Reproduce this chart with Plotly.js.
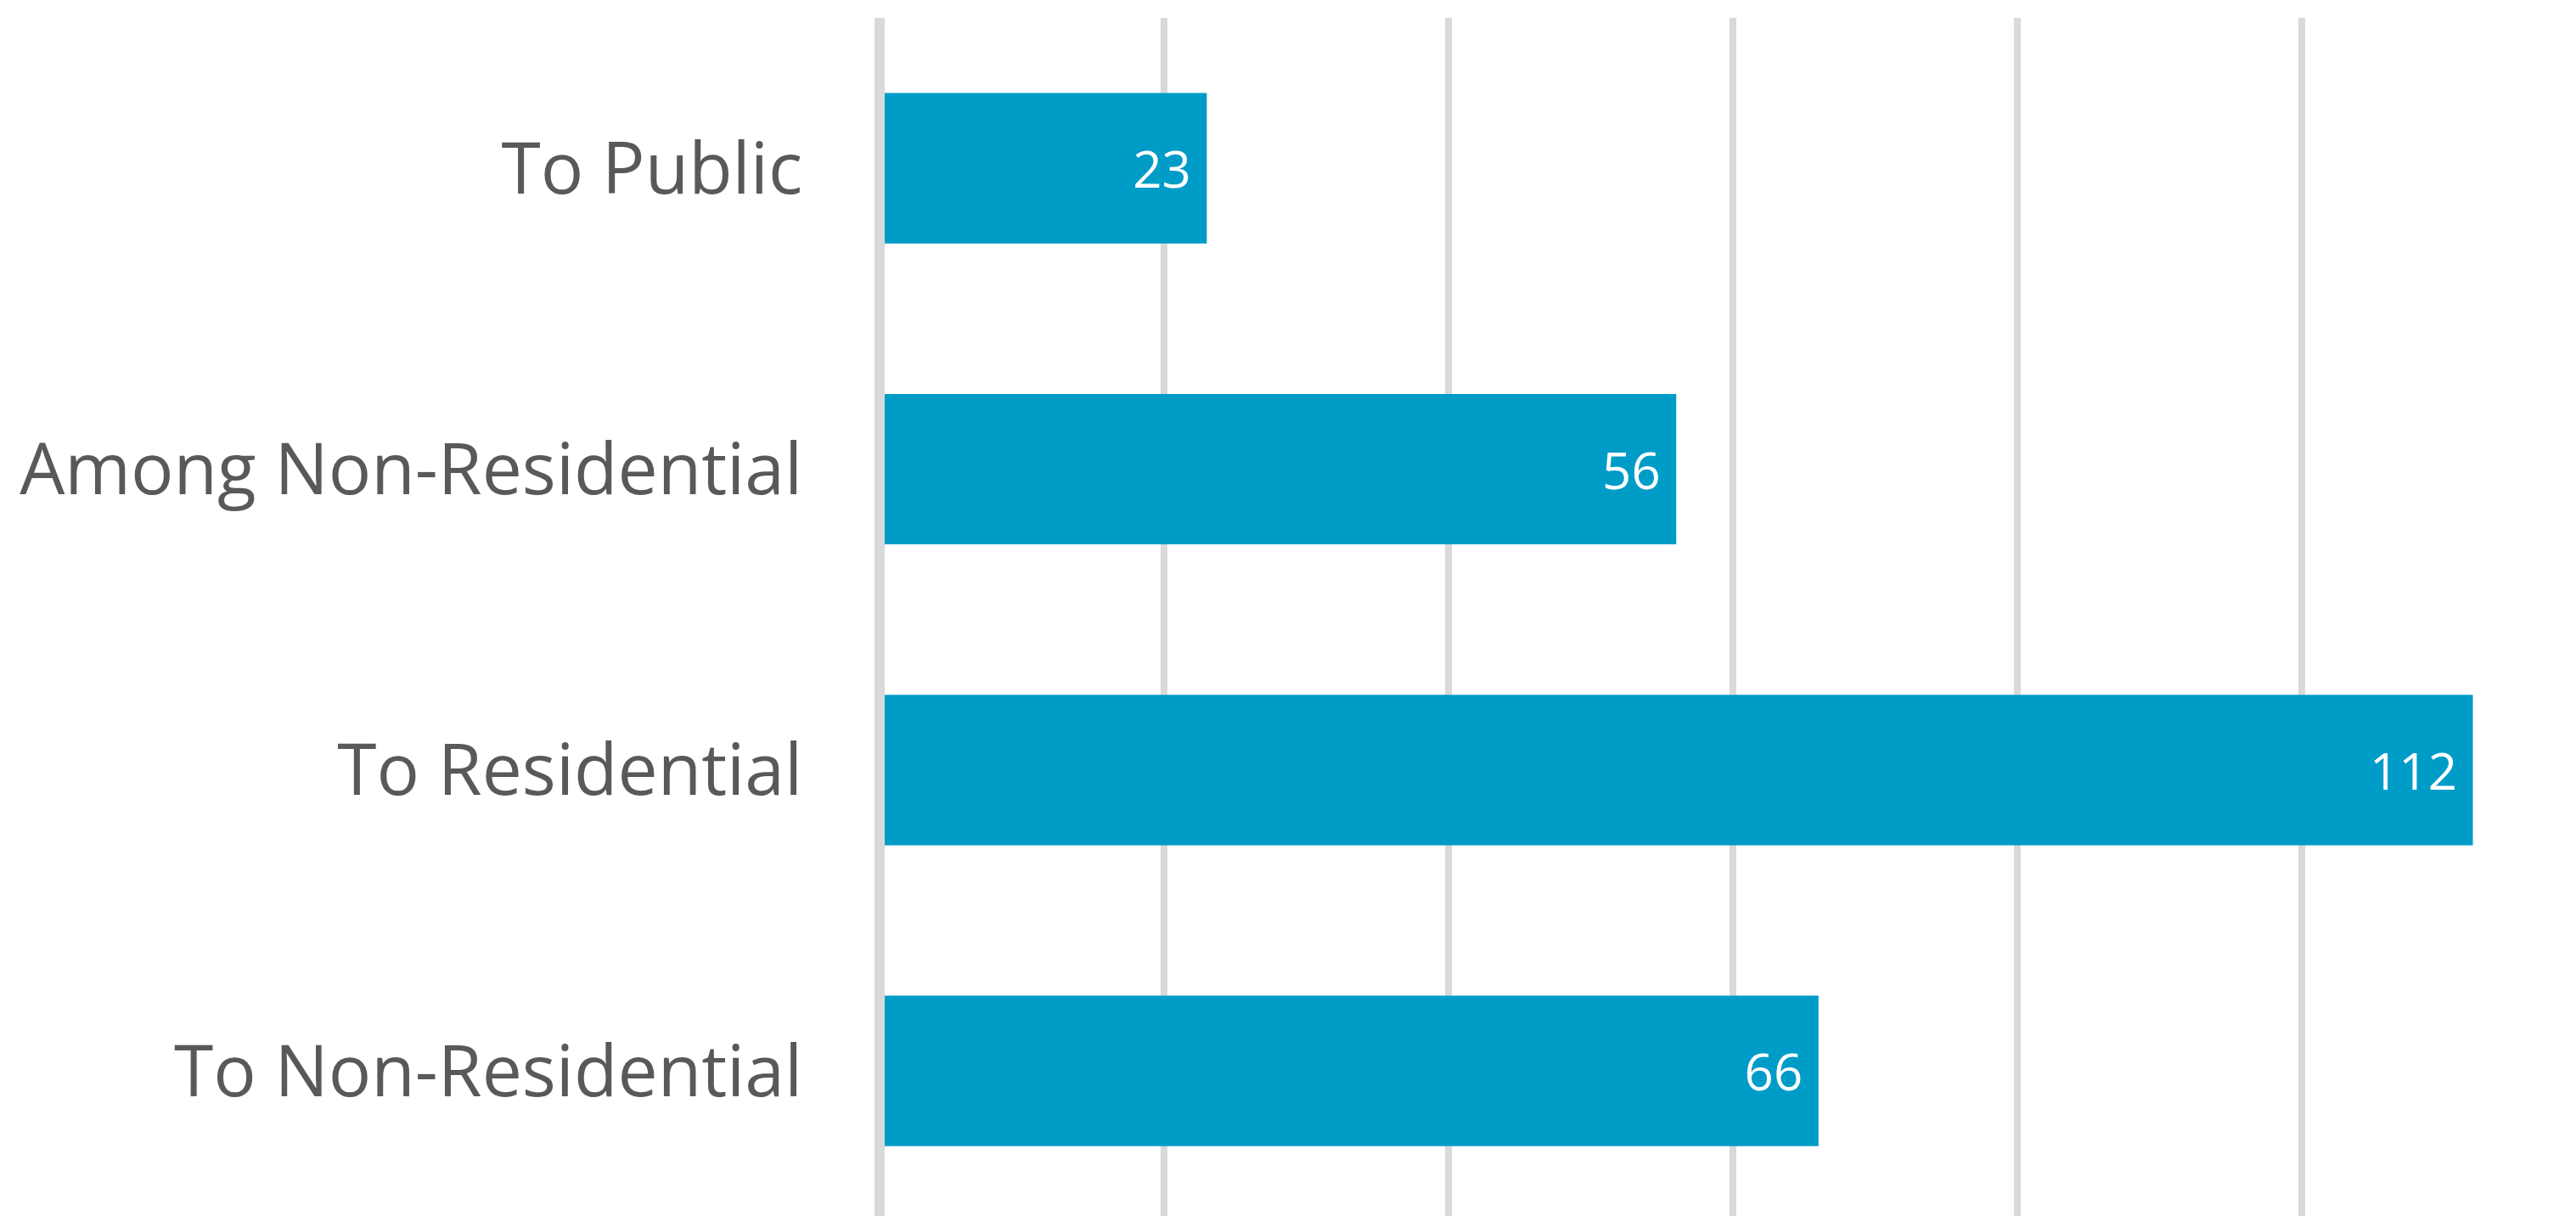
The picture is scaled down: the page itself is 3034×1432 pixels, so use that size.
<!DOCTYPE html>
<html>
<head>
<meta charset="utf-8">
<script src="https://cdn.plot.ly/plotly-3.0.1.min.js"></script>
<style>html,body{margin:0;padding:0;background:#fff;}#chart{width:3034px;height:1432px;}</style>
</head>
<body>
<div id="chart"></div>
<script>
const categories = ["To Public", "Among Non-Residential", "To Residential", "To Non-Residential"];
const values = [23, 56, 112, 66];
const labelPad = "\u00a0";

const trace = {
  type: "bar",
  orientation: "h",
  y: categories,
  x: values,
  text: values.map(v => String(v) + labelPad),
  textposition: "inside",
  insidetextanchor: "end",
  constraintext: "none",
  textfont: {family: "Open Sans", size: 60, color: "#ffffff"},
  marker: {color: "#009CC8", line: {width: 0}},
  hoverinfo: "none",
  cliponaxis: true
};

const layout = {
  width: 3034,
  height: 1432,
  margin: {l: 1042, r: 0, t: 21, b: 0, pad: 0},
  paper_bgcolor: "#ffffff",
  plot_bgcolor: "#ffffff",
  showlegend: false,
  bargap: 0.5,
  font: {family: "Open Sans", color: "#595959"},
  xaxis: {
    range: [0.358, 119.25],
    dtick: 20,
    tick0: 0,
    showgrid: true,
    gridcolor: "#d9d9d9",
    gridwidth: 8,
    zeroline: false,
    showline: false,
    showticklabels: false,
    ticks: ""
  },
  yaxis: {
    type: "category",
    categoryorder: "array",
    categoryarray: categories,
    range: [3.482, -0.5],
    showgrid: false,
    zeroline: false,
    showline: true,
    linecolor: "#d9d9d9",
    linewidth: 12,
    layer: "above traces",
    ticks: "",
    ticklabelstandoff: 68,
    tickfont: {family: "Open Sans", size: 84, color: "#595959"}
  }
};

Plotly.newPlot("chart", [trace], layout, {displayModeBar: false, staticPlot: true});
</script>
</body>
</html>
